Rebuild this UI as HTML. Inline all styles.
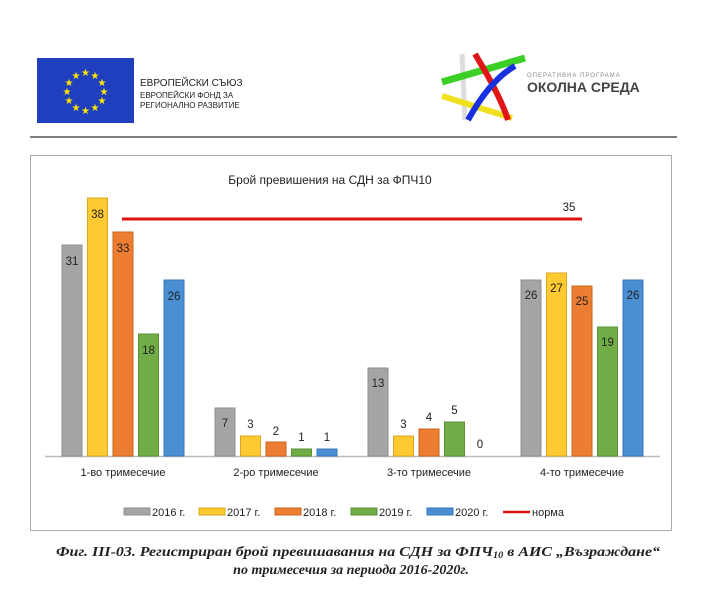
<!DOCTYPE html>
<html><head><meta charset="utf-8"><style>
body{margin:0;background:#fff;}
svg{display:block;font-family:"Liberation Sans",sans-serif;}
</style></head><body>
<svg width="702" height="600" viewBox="0 0 702 600" xmlns="http://www.w3.org/2000/svg">
<rect x="37" y="58" width="97" height="65" fill="#1f3fbf"/>
<g fill="#ffe600" font-size="10" text-anchor="middle">
<text x="85.5" y="76">★</text><text x="95" y="79">★</text><text x="102" y="86">★</text><text x="104" y="95">★</text><text x="102" y="104">★</text><text x="95" y="111">★</text><text x="85.5" y="114">★</text><text x="76" y="111">★</text><text x="69" y="104">★</text><text x="67" y="95">★</text><text x="69" y="86">★</text><text x="76" y="79">★</text>
</g>
<text x="140" y="86" font-size="10" fill="#222">ЕВРОПЕЙСКИ СЪЮЗ</text>
<text x="140" y="98" font-size="8" fill="#222">ЕВРОПЕЙСКИ ФОНД ЗА</text>
<text x="140" y="108" font-size="8" fill="#222">РЕГИОНАЛНО РАЗВИТИЕ</text>
<path d="M462 54 L465 120" stroke="#ddd" stroke-width="5"/>
<path d="M442 82 L525 58" stroke="#3ccf25" stroke-width="7"/>
<path d="M442 96 L512 118" stroke="#f0e020" stroke-width="6"/>
<path d="M475 54 Q500 95 508 120" stroke="#e01515" stroke-width="6" fill="none"/>
<path d="M468 120 Q490 80 515 66" stroke="#1830e0" stroke-width="6" fill="none"/>
<text x="527" y="77" font-size="6" fill="#888" letter-spacing="1">ОПЕРАТИВНА ПРОГРАМА</text>
<text x="527" y="92" font-size="14" font-weight="bold" fill="#444">ОКОЛНА СРЕДА</text>
<line x1="30" y1="137" x2="677" y2="137" stroke="#555" stroke-width="1.5"/>
<rect x="30.5" y="155.5" width="641" height="375" fill="#fff" stroke="#aaa"/>
<text x="330" y="184" font-size="12" text-anchor="middle" fill="#222">Брой превишения на СДН за ФПЧ10</text>
<line x1="45" y1="456.5" x2="660" y2="456.5" stroke="#bbb" stroke-width="1.5"/>
<g stroke-width="1">
<rect x="62" y="245" width="20" height="211" fill="#a5a5a5" stroke="#8f8f8f"/>
<rect x="87.5" y="198" width="20" height="258" fill="#ffc931" stroke="#d9a820"/>
<rect x="113" y="232" width="20" height="224" fill="#ed7d31" stroke="#c8661f"/>
<rect x="138.5" y="334" width="20" height="122" fill="#70ad47" stroke="#5a9136"/>
<rect x="164" y="280" width="20" height="176" fill="#4a8fd4" stroke="#3a76b4"/>
<rect x="215" y="408" width="20" height="48" fill="#a5a5a5" stroke="#8f8f8f"/>
<rect x="240.5" y="436" width="20" height="20" fill="#ffc931" stroke="#d9a820"/>
<rect x="266" y="442" width="20" height="14" fill="#ed7d31" stroke="#c8661f"/>
<rect x="291.5" y="449" width="20" height="7" fill="#70ad47" stroke="#5a9136"/>
<rect x="317" y="449" width="20" height="7" fill="#4a8fd4" stroke="#3a76b4"/>
<rect x="368" y="368" width="20" height="88" fill="#a5a5a5" stroke="#8f8f8f"/>
<rect x="393.5" y="436" width="20" height="20" fill="#ffc931" stroke="#d9a820"/>
<rect x="419" y="429" width="20" height="27" fill="#ed7d31" stroke="#c8661f"/>
<rect x="444.5" y="422" width="20" height="34" fill="#70ad47" stroke="#5a9136"/>
<rect x="521" y="280" width="20" height="176" fill="#a5a5a5" stroke="#8f8f8f"/>
<rect x="546.5" y="273" width="20" height="183" fill="#ffc931" stroke="#d9a820"/>
<rect x="572" y="286" width="20" height="170" fill="#ed7d31" stroke="#c8661f"/>
<rect x="597.5" y="327" width="20" height="129" fill="#70ad47" stroke="#5a9136"/>
<rect x="623" y="280" width="20" height="176" fill="#4a8fd4" stroke="#3a76b4"/>
</g>
<line x1="122" y1="219" x2="582" y2="219" stroke="#e31010" stroke-width="3"/>
<g font-size="11.5" text-anchor="middle" fill="#222">
<text x="72" y="265">31</text><text x="97.5" y="218">38</text><text x="123" y="252">33</text><text x="148.5" y="354">18</text><text x="174" y="300">26</text>
<text x="225" y="427">7</text><text x="250.5" y="428">3</text><text x="276" y="435">2</text><text x="301.5" y="441">1</text><text x="327" y="441">1</text>
<text x="378" y="387">13</text><text x="403.5" y="428">3</text><text x="429" y="421">4</text><text x="454.5" y="414">5</text><text x="480" y="448">0</text>
<text x="531" y="299">26</text><text x="556.5" y="292">27</text><text x="582" y="305">25</text><text x="607.5" y="346">19</text><text x="633" y="299">26</text>
<text x="569" y="211">35</text>
</g>
<g font-size="11" text-anchor="middle" fill="#222">
<text x="123" y="476">1-во тримесечие</text><text x="276" y="476">2-ро тримесечие</text><text x="429" y="476">3-то тримесечие</text><text x="582" y="476">4-то тримесечие</text>
</g>
<g font-size="11" fill="#222">
<rect x="124" y="508" width="26" height="7" fill="#a5a5a5" stroke="#8f8f8f"/><text x="152" y="516">2016 г.</text>
<rect x="199" y="508" width="26" height="7" fill="#ffc931" stroke="#d9a820"/><text x="227" y="516">2017 г.</text>
<rect x="275" y="508" width="26" height="7" fill="#ed7d31" stroke="#c8661f"/><text x="303" y="516">2018 г.</text>
<rect x="351" y="508" width="26" height="7" fill="#70ad47" stroke="#5a9136"/><text x="379" y="516">2019 г.</text>
<rect x="427" y="508" width="26" height="7" fill="#4a8fd4" stroke="#3a76b4"/><text x="455" y="516">2020 г.</text>
<line x1="503" y1="512" x2="530" y2="512" stroke="#e31010" stroke-width="2.5"/><text x="532" y="516">норма</text>
</g>
<g font-family="Liberation Serif,serif" font-style="italic" font-weight="bold" font-size="14" fill="#222">
<text x="56" y="556" textLength="604" lengthAdjust="spacingAndGlyphs">Фиг. III-03. Регистриран брой превишавания на СДН за ФПЧ<tspan font-size="9" dy="2">10</tspan><tspan dy="-2"> в АИС „Възраждане“</tspan></text>
<text x="351" y="574" text-anchor="middle">по тримесечия за периода 2016-2020г.</text>
</g>
</svg>
</body></html>
